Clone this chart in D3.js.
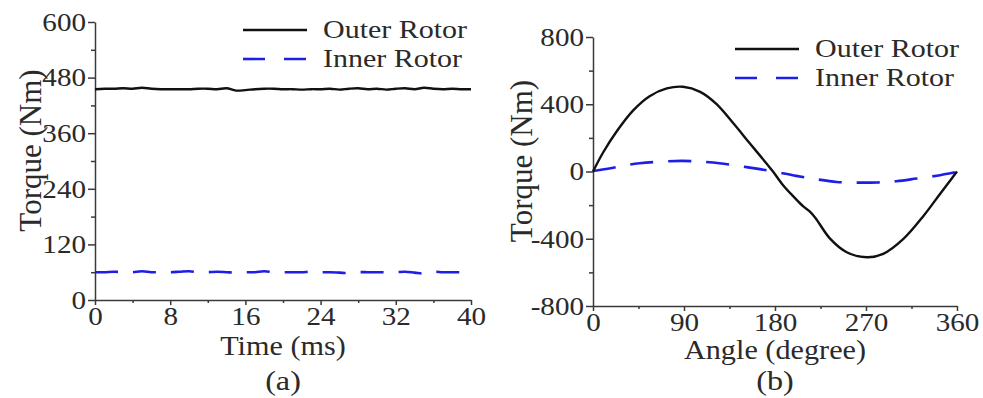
<!DOCTYPE html>
<html>
<head>
<meta charset="utf-8">
<script src="https://cdn.jsdelivr.net/npm/d3@7"></script>
<style>
  body { margin: 0; background: #fff; }
  svg, svg text { font-family: "Liberation Serif", "Times New Roman", serif; }
  .tick text { fill: #2a2a2a; transform-box: fill-box; }
  .xax .tick text { transform-origin: center; transform: scaleX(1.12); }
  .yax .tick text { transform-origin: right; transform: scaleX(1.12); }
  .domain, .tick line { stroke: #3a3a3a; stroke-width: 1.5; }
  .lbl { fill: #2a2a2a; transform-box: fill-box; transform-origin: center; }
</style>
</head>
<body>
<div id="chart"></div>
<script>
// (a) torque vs time
const timeMs = d3.range(0, 41);
const outerA = [455, 456, 456, 457, 456, 458, 456, 455, 455, 455, 455, 456, 456, 455, 457, 452, 453, 455, 456, 456, 455,
  455, 454, 455, 455, 456, 454, 456, 457, 455, 456, 454, 456, 457, 455, 458, 456, 455, 456, 455, 455];
const innerA = [60, 60, 61, 60, 60, 62, 60, 60, 60, 61, 62, 60, 60, 61, 60, 59, 60, 60, 62, 60, 60,
  60, 60, 61, 60, 60, 59, 58, 60, 60, 60, 60, 60, 61, 59, 57, 61, 60, 60, 60, 60];
const xTicksA = [0, 8, 16, 24, 32, 40];
const yTicksA = [0, 120, 240, 360, 480, 600];

// (b) torque vs angle
const angleOuter = [0, 10, 23, 40, 56, 73, 89, 106, 122, 139, 155, 172, 178, 188, 200, 208, 214, 220, 234, 251, 271, 287, 307, 327, 343, 355, 360];
const outerB = [0, 113, 235, 365, 448, 494, 504, 474, 402, 285, 168, 45, 0, -82, -160, -208, -236, -276, -396, -480, -510, -490, -401, -263, -135, -40, 0];
const angleInner = [0, 16, 30, 46, 65, 88, 105, 125, 145, 165, 176, 201, 220, 241, 260, 281, 300, 320, 340, 360];
const innerB = [3, 18, 35, 49, 58, 63, 59, 49, 32, 14, 3, -26, -45, -62, -66, -65, -58, -42, -25, -2];
const xTicksB = [0, 90, 180, 270, 360];
const yTicksB = [-800, -400, 0, 400, 800];

const seriesNames = ["Outer Rotor", "Inner Rotor"];

const W = 983, H = 398;
const serif = '"Liberation Serif", "Times New Roman", serif';
const svg = d3.select("#chart").append("svg").attr("width", W).attr("height", H);

function panel(cfg) {
  const x = d3.scaleLinear().domain(cfg.xDom).range([cfg.left, cfg.right]);
  const y = d3.scaleLinear().domain(cfg.yDom).range([cfg.bottom, cfg.top]);
  const g = svg.append("g");
  const fmt = d => String(d);

  // minor ticks
  g.append("g").attr("class", "xax").attr("transform", `translate(0,${cfg.bottom})`)
    .call(d3.axisBottom(x).tickValues(cfg.xMinor).tickSize(3).tickSizeOuter(0).tickFormat(""))
    .call(s => s.select(".domain").remove());
  g.append("g").attr("class", "yax").attr("transform", `translate(${cfg.left},0)`)
    .call(d3.axisLeft(y).tickValues(cfg.yMinor).tickSize(4).tickSizeOuter(0).tickFormat(""))
    .call(s => s.select(".domain").remove());

  // major
  g.append("g").attr("class", "xax").attr("transform", `translate(0,${cfg.bottom})`)
    .call(d3.axisBottom(x).tickValues(cfg.xTicks).tickSize(5).tickPadding(2).tickSizeOuter(0).tickFormat(fmt))
    .call(s => s.attr("font-family", serif).selectAll("text").style("font-family", serif).style("font-size", "26px"));
  g.append("g").attr("class", "yax").attr("transform", `translate(${cfg.left},0)`)
    .call(d3.axisLeft(y).tickValues(cfg.yTicks).tickSize(7).tickPadding(2).tickSizeOuter(0).tickFormat(fmt))
    .call(s => s.attr("font-family", serif).selectAll("text").style("font-family", serif).style("font-size", "26px"));

  const line = d3.line().x(d => x(d[0])).y(d => y(d[1])).curve(d3.curveCatmullRom.alpha(0.5));

  g.append("path").datum(d3.zip(cfg.innerX, cfg.inner)).attr("d", line)
    .attr("fill", "none").attr("stroke", "#1e1ee6").attr("stroke-width", 2.6)
    .attr("stroke-dasharray", "23,15");
  g.append("path").datum(d3.zip(cfg.outerX, cfg.outer)).attr("d", line)
    .attr("fill", "none").attr("stroke", "#111").attr("stroke-width", 2.4);

  // legend
  const lg = g.append("g");
  [0, 1].forEach(i => {
    const ly = cfg.legY + i * 29;
    lg.append("line").attr("x1", cfg.legX).attr("x2", cfg.legX + 64).attr("y1", ly).attr("y2", ly)
      .attr("stroke", i ? "#1e1ee6" : "#111").attr("stroke-width", i ? 2.6 : 2.4)
      .attr("stroke-dasharray", i ? "22,19" : null);
    lg.append("text").attr("class", "lbl").attr("x", cfg.legX + 80).attr("y", ly + 8)
      .style("font-size", "25px").style("transform-origin", "left").style("transform", "scaleX(1.2)")
      .text(seriesNames[i]);
  });

  // axis titles
  const cx = (cfg.left + cfg.right) / 2;
  g.append("text").attr("class", "lbl").attr("x", cx).attr("y", cfg.titleY).attr("text-anchor", "middle")
    .style("font-size", "27px").style("transform", "scaleX(1.12)").text(cfg.xTitle);
  g.append("text").attr("class", "lbl").attr("text-anchor", "middle")
    .attr("transform", `translate(${cfg.yTitleX},${(cfg.top + cfg.bottom) / 2}) rotate(-90)`)
    .style("font-size", "31px").text("Torque (Nm)");
  g.append("text").attr("class", "lbl").attr("x", cx).attr("y", 390).attr("text-anchor", "middle")
    .style("font-size", "28px").style("transform", "scaleX(1.15)").text(cfg.tag);
}

panel({
  left: 95, right: 471, top: 22, bottom: 300,
  xDom: [0, 40], yDom: [0, 600],
  xTicks: xTicksA, yTicks: yTicksA,
  xMinor: d3.range(4, 40, 8), yMinor: d3.range(60, 600, 120),
  outerX: timeMs, outer: outerA, innerX: timeMs, inner: innerA,
  legX: 243, legY: 30, xTitle: "Time (ms)", titleY: 355, yTitleX: 30, tag: "(a)"
});

panel({
  left: 593, right: 957, top: 37, bottom: 306,
  xDom: [0, 360], yDom: [-800, 800],
  xTicks: xTicksB, yTicks: yTicksB,
  xMinor: d3.range(45, 360, 90), yMinor: d3.range(-600, 800, 400),
  outerX: angleOuter, outer: outerB, innerX: angleInner, inner: innerB,
  legX: 735, legY: 49, xTitle: "Angle (degree)", titleY: 359, yTitleX: 521, tag: "(b)"
});
</script>
</body>
</html>
